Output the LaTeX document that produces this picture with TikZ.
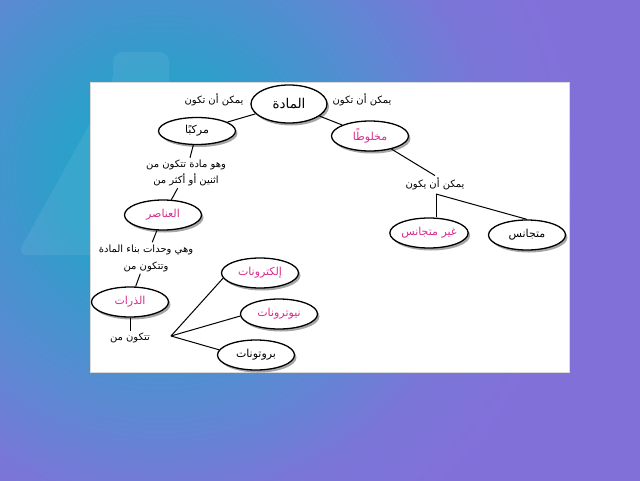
\documentclass[tikz,border=0pt]{standalone}
\usepackage{fontspec}
\newfontfamily\arabicfont[Script=Arabic]{DejaVu Sans}
\TeXXeTstate=1
\usetikzlibrary{shapes.geometric,shadows}
\newcommand{\AR}[1]{{\arabicfont\beginR #1\endR}}
\definecolor{mag}{HTML}{D62E8C}
\definecolor{bgc0}{HTML}{24A8C6}
\definecolor{bgc1}{HTML}{2C9FCA}
\definecolor{bgc2}{HTML}{5A8AD2}
\definecolor{bgc3}{HTML}{7A76D8}
\definecolor{bgc4}{HTML}{8270D9}
\pgfdeclareradialshading{bgshade}{\pgfpoint{0bp}{0bp}}{color(0bp)=(bgc0); color(5bp)=(bgc1); color(11.5bp)=(bgc2); color(16.5bp)=(bgc3); color(21bp)=(bgc4); color(50bp)=(bgc4)}
\tikzset{
  bubble/.style={ellipse, draw=black, line width=1.3pt, fill=white,
    minimum width=77pt, minimum height=30pt, inner sep=0pt,
    drop shadow={shadow xshift=2pt, shadow yshift=-2.5pt, opacity=0.35, fill=black},
    font=\arabicfont\fontsize{11}{13}\selectfont},
  lbl/.style={font=\arabicfont\fontsize{10}{16}\selectfont, inner sep=2pt, align=center},
  conn/.style={line width=1pt, draw=black},
  magtext/.style={text=mag}
}
\begin{document}
\begin{tikzpicture}[x=1pt,y=-1pt]
\useasboundingbox (0,0) rectangle (640,480);
\begin{scope}
  \clip (0,0) rectangle (640,480);
  \shade[shading=bgshade] (-340,-325) rectangle (660,675);
  \fill[white, opacity=0.07, rounded corners=10pt]
    (113,52) -- (169,52) -- (169,95) -- (260,255) -- (17,255) -- (113,82) -- cycle;
\end{scope}
\fill[white, draw=black!15, line width=0.5pt] (90,82) rectangle (569,372);

\node[bubble, minimum width=76pt, minimum height=38pt, font=\arabicfont\fontsize{13.5}{16}\selectfont] (matter) at (289,104) {\AR{المادة}};
\node[lbl] (lt) at (214,100) {\AR{يمكن أن تكون}};
\node[lbl] (rt) at (362,100) {\AR{يمكن أن تكون}};
\node[bubble, minimum height=27pt] (comp) at (197,131) {\AR{مركبًا}};
\node[bubble, magtext] (mix) at (370,136) {\AR{مخلوطًا}};
\node[lbl] (t1) at (186,173) {\AR{وهو مادة تتكون من}\\\AR{اثنين أو أكثر من}};
\node[bubble, magtext] (elem) at (163,215) {\AR{العناصر}};
\node[lbl, font=\arabicfont\fontsize{10}{17}\selectfont] (t2) at (146,258) {\AR{وهي وحدات بناء المادة}\\\AR{وتتكون من}};
\node[bubble, magtext] (atoms) at (130,302) {\AR{الذرات}};
\node[lbl] (t3) at (130,338) {\AR{تتكون من}};
\coordinate (j1) at (171,336);
\node[bubble, magtext] (elec) at (260,273) {\AR{إلكترونات}};
\node[bubble, magtext] (neut) at (279,314) {\AR{نيوترونات}};
\node[bubble] (prot) at (256,355) {\AR{بروتونات}};
\node[lbl] (t4) at (435,184) {\AR{يمكن أن يكون}};
\coordinate (j2) at (436,194);
\node[bubble, magtext] (het) at (429,233) {\AR{غير متجانس}};
\node[bubble] (hom) at (527,235) {\AR{متجانس}};

\draw[conn] (matter) -- (comp);
\draw[conn] (matter) -- (mix);
\draw[conn] (comp) -- (t1);
\draw[conn] (t1) -- (elem);
\draw[conn] (elem) -- (t2);
\draw[conn] (t2) -- (atoms);
\draw[conn] (atoms) -- (t3);
\draw[conn] (j1) -- (elec.188);
\draw[conn] (j1) -- (neut.183);
\draw[conn] (j1) -- (prot.172);
\draw[conn] (mix) -- (t4.north);
\draw[conn] (j2) -- (j2 |- het.north);
\draw[conn] (j2) -- (hom.north);
\end{tikzpicture}
\end{document}
